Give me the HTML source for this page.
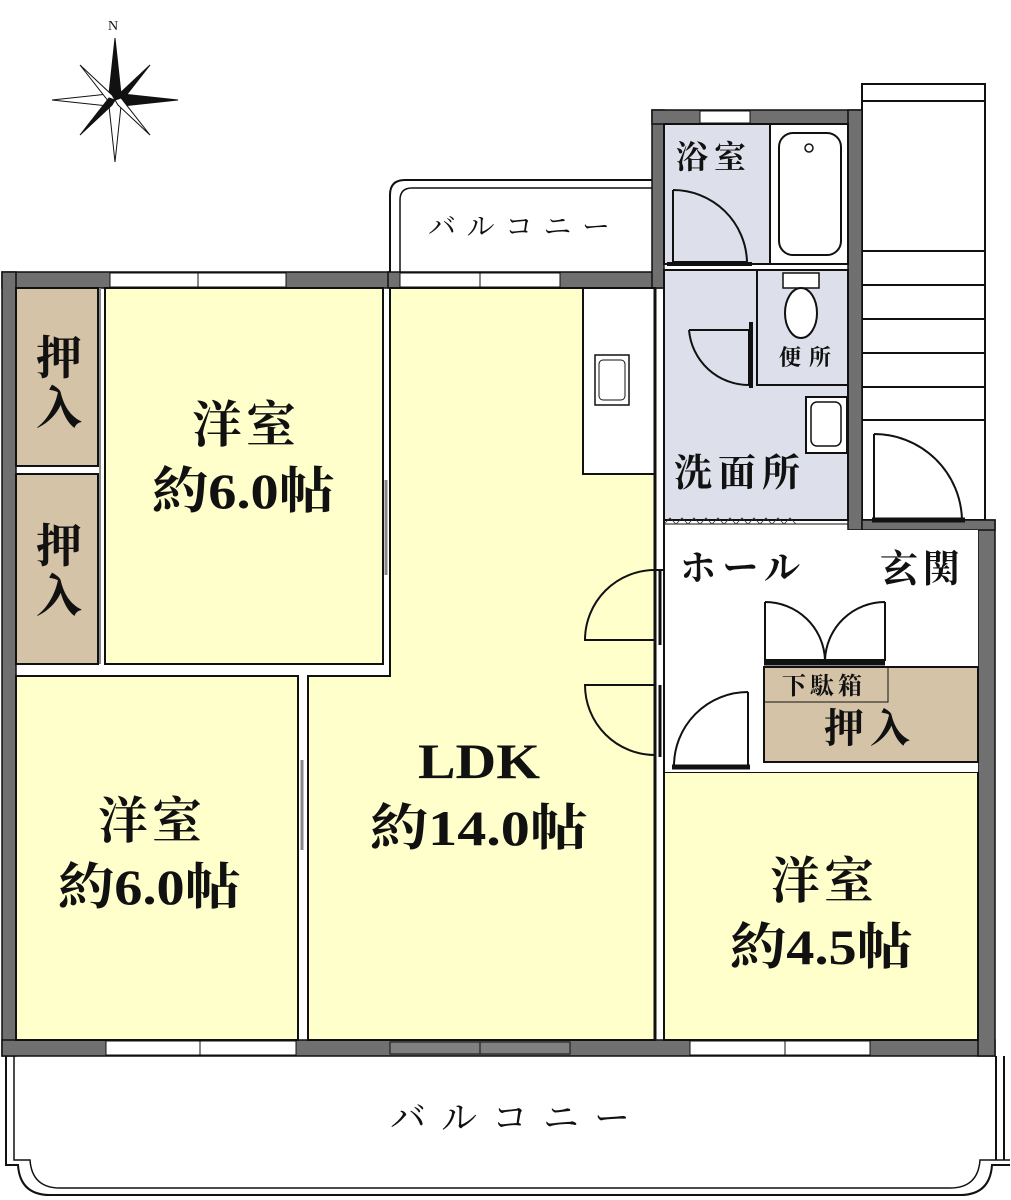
<!DOCTYPE html>
<html><head><meta charset="utf-8"><style>
html,body{margin:0;padding:0;background:#fff;}
svg{display:block;}
text{font-family:"Liberation Serif","Noto Serif CJK SC","Noto Serif CJK JP",serif;fill:#111;font-weight:bold;}
</style></head><body>
<svg width="1011" height="1200" viewBox="0 0 1011 1200" xmlns="http://www.w3.org/2000/svg">
<g fill="#111" stroke="#111" stroke-width="1">
<polygon points="115,38 121,94 115,100 109,94" fill="#111"/>
<polygon points="115,162 121,106 115,100 109,106" fill="#fff"/>
<polygon points="52,100 108,94 115,100 108,106" fill="#fff"/>
<polygon points="178,100 122,94 115,100 122,106" fill="#111"/>
<polygon points="80,65 112,95 115,100 109,102" fill="#fff"/>
<polygon points="150,65 118,95 115,100 121,102" fill="#111"/>
<polygon points="80,135 112,105 115,100 109,98" fill="#111"/>
<polygon points="150,135 118,105 115,100 121,98" fill="#fff"/>
</g>
<text x="108" y="30" font-size="14" style="font-weight:normal">N</text>

<g fill="#fff" stroke="#111" stroke-width="2">
<rect x="862" y="84" width="123" height="436"/>
<line x1="862" y1="101" x2="985" y2="101"/>
<line x1="862" y1="251" x2="985" y2="251"/>
<line x1="862" y1="285" x2="985" y2="285"/>
<line x1="862" y1="319" x2="985" y2="319"/>
<line x1="862" y1="353" x2="985" y2="353"/>
<line x1="862" y1="387" x2="985" y2="387"/>
<line x1="862" y1="420" x2="985" y2="420"/>
</g>

<path d="M390,272 L390,195 Q390,180 405,180 L652,180" fill="none" stroke="#111" stroke-width="2"/>
<path d="M400,272 L400,200 Q400,188 412,188 L652,188" fill="none" stroke="#111" stroke-width="1.5"/>
<text x="428" y="236" font-size="28" textLength="182" style="font-weight:normal">バルコニー</text>

<path d="M6,1056 L6,1165 L18,1165 Q20,1195 50,1195 L960,1195 Q990,1195 992,1165 L1010,1165" fill="none" stroke="#111" stroke-width="2"/>
<path d="M14,1056 L14,1160 L30,1160 Q32,1188 60,1188 L950,1188 Q978,1188 980,1160 L1010,1160" fill="none" stroke="#111" stroke-width="1.5"/>
<line x1="996" y1="1056" x2="996" y2="1160" stroke="#111" stroke-width="2"/>
<line x1="1004" y1="1056" x2="1004" y2="1160" stroke="#111" stroke-width="2"/>
<text x="390" y="1130" font-size="36" textLength="240" style="font-weight:normal">バルコニー</text>

<rect x="2" y="272" width="388" height="16" fill="#707070" stroke="#111" stroke-width="1.5"/>
<rect x="388" y="272" width="276" height="16" fill="#707070" stroke="#111" stroke-width="1.5"/>
<rect x="652" y="110" width="12" height="178" fill="#707070" stroke="#111" stroke-width="1.5"/>
<rect x="652" y="110" width="210" height="14" fill="#707070" stroke="#111" stroke-width="1.5"/>
<rect x="848" y="110" width="14" height="420" fill="#707070" stroke="#111" stroke-width="1.5"/>
<rect x="2" y="272" width="14" height="784" fill="#707070" stroke="#111" stroke-width="1.5"/>
<rect x="2" y="1040" width="993" height="16" fill="#707070" stroke="#111" stroke-width="1.5"/>
<rect x="978" y="520" width="17" height="536" fill="#707070" stroke="#111" stroke-width="1.5"/>
<rect x="862" y="520" width="133" height="10" fill="#707070" stroke="#111" stroke-width="1.5"/>
<g fill="#fff" stroke="#111" stroke-width="1">
<rect x="110" y="273" width="176" height="14"/><line x1="198" y1="273" x2="198" y2="287"/>
<rect x="400" y="273" width="160" height="14"/><line x1="480" y1="273" x2="480" y2="287"/>
<rect x="700" y="111" width="50" height="12"/>
<rect x="106" y="1041" width="190" height="14"/><line x1="200" y1="1041" x2="200" y2="1055"/>
<rect x="690" y="1041" width="180" height="14"/><line x1="785" y1="1041" x2="785" y2="1055"/>
</g>
<rect x="390" y="1042" width="180" height="12" fill="#808080" stroke="#111" stroke-width="1"/>
<line x1="480" y1="1042" x2="480" y2="1054" stroke="#111"/>

<g stroke="#111" stroke-width="2">
<rect x="16" y="288" width="82" height="178" fill="#d4c3a6"/>
<rect x="16" y="474" width="82" height="190" fill="#d4c3a6"/>
<rect x="105" y="288" width="278" height="376" fill="#ffffcc"/>
<rect x="16" y="676" width="282" height="364" fill="#ffffcc"/>
<path d="M308,1040 L308,676 L390,676 L390,288 L655,288 L655,1040 Z" fill="#ffffcc"/>
<rect x="583" y="288" width="72" height="186" fill="#fff"/>
<rect x="664" y="772" width="314" height="268" fill="#ffffcc"/>
<rect x="664" y="530" width="314" height="242" fill="#fff" stroke="none"/>
<rect x="764" y="667" width="214" height="95" fill="#d4c3a6"/>
<rect x="764" y="667" width="124" height="35" fill="none" stroke-width="1"/>
<rect x="664" y="270" width="184" height="250" fill="#dde0ea"/>
<rect x="664" y="124" width="106" height="140" fill="#dde0ea"/>
<rect x="770" y="124" width="78" height="140" fill="#fff"/>
<rect x="757" y="270" width="91" height="115" fill="#dde0ea"/>
</g>
<line x1="655" y1="288" x2="655" y2="1040" stroke="#111" stroke-width="3"/>
<line x1="664" y1="520" x2="664" y2="1040" stroke="#111" stroke-width="2"/>
<line x1="664" y1="524" x2="848" y2="524" stroke="#111" stroke-width="1"/>
<path d="M664,524 l6,-6 l6,6 l6,-6 l6,6 l6,-6 l6,6 l6,-6 l6,6 l6,-6 l6,6 l6,-6 l6,6 l6,-6 l6,6 l6,-6 l6,6 l6,-6 l6,6 l6,-6 l6,6 l6,-6 l6,6" fill="none" stroke="#333" stroke-width="0.8"/>

<rect x="779" y="133" width="62" height="122" rx="14" fill="#fff" stroke="#111" stroke-width="2"/>
<circle cx="809" cy="148" r="4" fill="none" stroke="#111" stroke-width="1.5"/>
<rect x="783" y="273" width="36" height="15" fill="#fff" stroke="#111" stroke-width="1.5"/>
<ellipse cx="801" cy="313" rx="16" ry="25" fill="#fff" stroke="#111" stroke-width="2"/>
<rect x="806" y="397" width="41" height="56" fill="#fff" stroke="#111" stroke-width="2"/>
<rect x="811" y="402" width="30" height="44" rx="6" fill="#fff" stroke="#111" stroke-width="1.5"/>
<rect x="595" y="355" width="34" height="50" fill="#fff" stroke="#111" stroke-width="1.5"/>
<rect x="599" y="360" width="26" height="40" rx="4" fill="#fff" stroke="#111" stroke-width="1"/>

<g fill="none" stroke="#111" stroke-width="2">
<path d="M673,190 L673,262 L747,262 A74,74 0 0 0 673,190"/>
<path d="M689,330 L749,330 L749,385 M749,385 A60,60 0 0 1 689,330"/>
<path d="M874,434 L874,520 L962,520 A88,88 0 0 0 874,434"/>
<path d="M664,570 L655,570 M655,570 A70,70 0 0 0 585,640 L655,640"/>
<path d="M655,685 L585,685 A70,70 0 0 0 655,755"/>
<path d="M765,602 L765,660 L825,660 A60,60 0 0 0 765,602"/>
<path d="M885,602 L885,660 L825,660 A60,60 0 0 1 885,602"/>
<path d="M748,692 L748,767 L674,767 A74,74 0 0 1 748,692"/>
</g>
<line x1="764" y1="663" x2="885" y2="663" stroke="#111" stroke-width="5"/>
<line x1="672" y1="767" x2="750" y2="767" stroke="#111" stroke-width="5"/>
<line x1="872" y1="520" x2="965" y2="520" stroke="#111" stroke-width="5"/>
<line x1="660" y1="570" x2="660" y2="645" stroke="#111" stroke-width="3"/>
<line x1="660" y1="685" x2="660" y2="757" stroke="#111" stroke-width="3"/>
<line x1="751" y1="322" x2="751" y2="388" stroke="#111" stroke-width="4"/>
<line x1="667" y1="264" x2="752" y2="264" stroke="#111" stroke-width="4"/>
<line x1="386" y1="480" x2="386" y2="575" stroke="#888" stroke-width="3"/>
<line x1="302" y1="760" x2="302" y2="850" stroke="#888" stroke-width="3"/>
<line x1="100" y1="288" x2="100" y2="664" stroke="#888" stroke-width="2"/>

<g font-size="46">
<text x="36" y="374">押</text><text x="36" y="424">入</text>
<text x="36" y="562">押</text><text x="36" y="612">入</text>
</g>
<text x="192" y="442" font-size="50" textLength="104">洋室</text>
<text x="152" y="508" font-size="50" textLength="183" lengthAdjust="spacingAndGlyphs">約6.0帖</text>
<text x="98" y="838" font-size="50" textLength="104">洋室</text>
<text x="58" y="904" font-size="50" textLength="183" lengthAdjust="spacingAndGlyphs">約6.0帖</text>
<text x="418" y="778" font-size="50" textLength="122" lengthAdjust="spacingAndGlyphs">LDK</text>
<text x="370" y="845" font-size="50" textLength="218" lengthAdjust="spacingAndGlyphs">約14.0帖</text>
<text x="770" y="898" font-size="50" textLength="104">洋室</text>
<text x="730" y="964" font-size="50" textLength="183" lengthAdjust="spacingAndGlyphs">約4.5帖</text>
<text x="676" y="168" font-size="32" textLength="70">浴室</text>
<text x="779" y="365" font-size="22" textLength="52">便所</text>
<text x="674" y="486" font-size="38" textLength="126">洗面所</text>
<text x="680" y="580" font-size="36" textLength="120">ホール</text>
<text x="880" y="582" font-size="38" textLength="80">玄関</text>
<text x="782" y="694" font-size="24" textLength="80">下駄箱</text>
<text x="824" y="742" font-size="40" textLength="86">押入</text>
</svg>
</body></html>
